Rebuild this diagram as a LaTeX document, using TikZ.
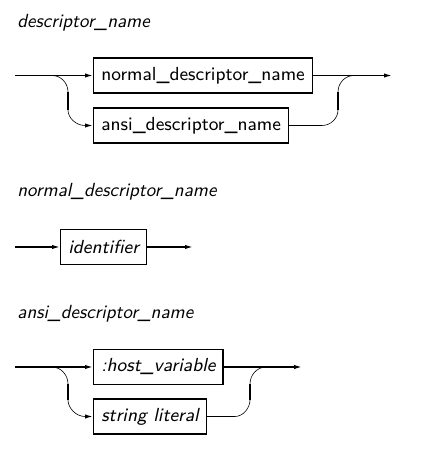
\documentclass[tikz,border=0pt]{standalone}
\usetikzlibrary{arrows.meta,positioning}
\tikzset{
  rulename/.style={font=\sffamily\itshape\fontsize{9.5}{11}\selectfont,
    anchor=base west,inner sep=0pt},
  rulebox/.style={draw,line width=0.7pt,minimum height=17.5pt,
    inner xsep=3.8pt,inner ysep=0pt,anchor=west,
    font=\sffamily\fontsize{9.45}{11}\selectfont},
  tokenbox/.style={rulebox,font=\sffamily\itshape\fontsize{9.45}{11}\selectfont},
  track/.style={line width=0.7pt},
  curvelink/.style={line width=0.3pt},
  flow/.style={track,-{Latex[length=4pt,width=2.2pt]}}
}

\begin{document}
\begin{tikzpicture}[x=0.5pt,y=-0.5pt]
  \useasboundingbox (0,0) rectangle (433,458);

  % descriptor_name
  \node[rulename] (r1) at (17,27.5) {descriptor\_name};
  \coordinate (in1) at (15,75.5);
  \node[rulebox] (normal) at (93,75.5) {normal\_descriptor\_name};
  \node[rulebox] (ansi) at (93,125.5) {ansi\_descriptor\_name};
  \coordinate (out1) at (392,75.5);
  \draw[flow] (in1) -- (normal);
  \draw[flow] (normal) -- (out1);
  \coordinate (sa1) at (52,75.5);
  \coordinate (sb1) at (68,92);
  \coordinate (sc1) at (68,110);
  \coordinate (sd1) at (85,125.5);
  \draw[curvelink] (sa1) .. controls (61,75.5) and (68,83) .. (sb1);
  \draw[track] (sb1) -- (sc1);
  \draw[curvelink] (sc1) .. controls (68,118) and (76,125.5) .. (sd1);
  \draw[flow] (sd1) -- (ansi);
  \coordinate (ja1) at (322,125.5);
  \coordinate (jb1) at (338,110);
  \coordinate (jc1) at (338,92);
  \coordinate (jd1) at (354,75.5);
  \draw[track] (ansi) -- (ja1);
  \draw[curvelink] (ja1) .. controls (331,125.5) and (338,118) .. (jb1);
  \draw[track] (jb1) -- (jc1);
  \draw[curvelink] (jc1) .. controls (338,83) and (345,75.5) .. (jd1);

  % normal_descriptor_name
  \node[rulename] (r2) at (17,197) {normal\_descriptor\_name};
  \coordinate (in2) at (15,247);
  \node[tokenbox] (ident) at (60,247) {identifier};
  \coordinate (out2) at (193,247);
  \draw[flow] (in2) -- (ident);
  \draw[flow] (ident) -- (out2);

  % ansi_descriptor_name
  \node[rulename] (r3) at (17,318) {ansi\_descriptor\_name};
  \coordinate (in3) at (15,367);
  \node[tokenbox] (host) at (93,367) {:host\_variable};
  \node[tokenbox] (strlit) at (93,416.5) {string literal};
  \coordinate (out3) at (302,367);
  \draw[flow] (in3) -- (host);
  \draw[flow] (host) -- (out3);
  \coordinate (sa3) at (52,367);
  \coordinate (sb3) at (68,384);
  \coordinate (sc3) at (68,400);
  \coordinate (sd3) at (85,416.5);
  \draw[curvelink] (sa3) .. controls (61,367) and (68,375) .. (sb3);
  \draw[track] (sb3) -- (sc3);
  \draw[curvelink] (sc3) .. controls (68,408) and (76,416.5) .. (sd3);
  \draw[flow] (sd3) -- (strlit);
  \coordinate (ja3) at (235,416.5);
  \coordinate (jb3) at (250,400);
  \coordinate (jc3) at (250,384);
  \coordinate (jd3) at (266,367);
  \draw[track] (strlit) -- (ja3);
  \draw[curvelink] (ja3) .. controls (243,416.5) and (250,408) .. (jb3);
  \draw[track] (jb3) -- (jc3);
  \draw[curvelink] (jc3) .. controls (250,375) and (257,367) .. (jd3);
\end{tikzpicture}
\end{document}
